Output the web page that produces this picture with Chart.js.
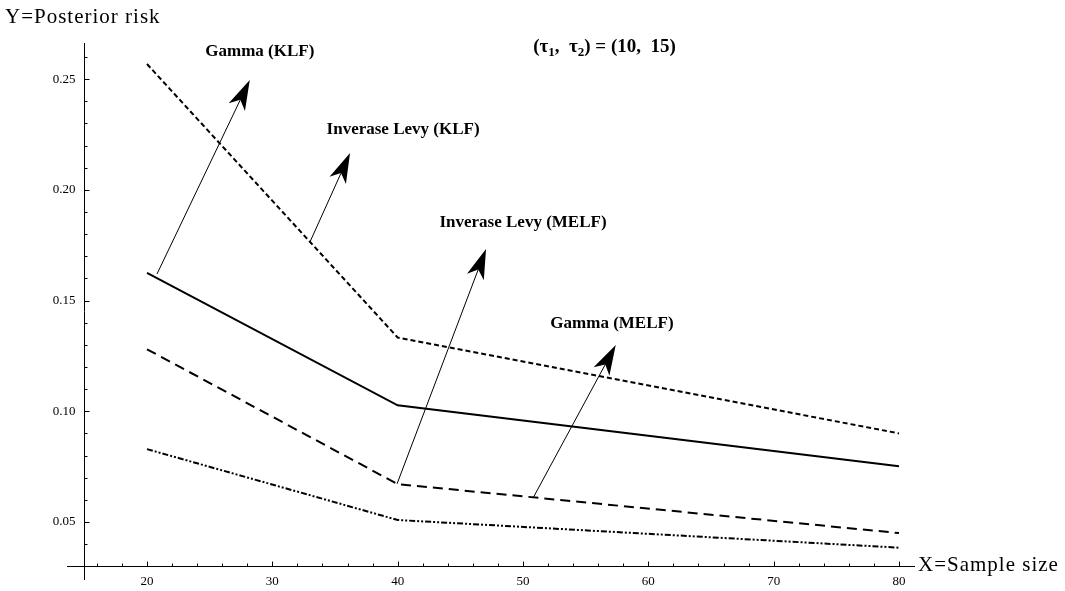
<!DOCTYPE html>
<html><head><meta charset="utf-8">
<script src="https://cdn.jsdelivr.net/npm/chart.js@4/dist/chart.umd.min.js"></script>
<style>html,body{margin:0;padding:0;background:#fff}#wrap{width:1065px;height:591px;position:relative}</style>
</head><body><div id="wrap"><canvas id="c" width="1065" height="591"></canvas></div>
<script>
// ---- data ----
const sampleSizes = [20, 40, 80];
const gammaKLF  = [0.1625, 0.1027, 0.0752];
const levyKLF   = [0.2568, 0.1333, 0.0900];
const levyMELF  = [0.1280, 0.0671, 0.0450];
const gammaMELF = [0.0829, 0.0509, 0.0384];

const xTickLabels = [20, 30, 40, 50, 60, 70, 80];
const yTickLabels = [0.05, 0.10, 0.15, 0.20, 0.25];
const xMinorTicks = [16,18,22,24,26,28,32,34,36,38,42,44,46,48,52,54,56,58,62,64,66,68,72,74,76,78];
const yMinorTicks = [0.03,0.04,0.06,0.07,0.08,0.09,0.11,0.12,0.13,0.14,0.16,0.17,0.18,0.19,0.21,0.22,0.23,0.24,0.26];

const arrowLabels = ["Gamma (KLF)", "Inverase Levy (KLF)", "Inverase Levy (MELF)", "Gamma (MELF)"];
const arrowFromX = [20.8, 33.0, 39.95, 50.8];
const arrowFromY = [0.1620, 0.1764, 0.0672, 0.0608];
const arrowToX   = [28.2, 36.2, 47.05, 57.4];
const arrowToY   = [0.2496, 0.2166, 0.1733, 0.1299];
const labelX     = [29.0, 40.43, 50.0, 57.1];
const labelY     = [0.2622, 0.2270, 0.1854, 0.1398];

const xAxisCrossY = 0.0302;  // where the x axis sits
const yAxisCrossX = 15;      // where the y axis sits

function pts(ys){ return sampleSizes.map((x,i)=>({x:x, y:ys[i]})); }

const serif = '"Liberation Serif", "Times New Roman", serif';

const axesPlugin = {
  id: 'mmaAxes',
  afterDatasetsDraw(chart){
    const ctx = chart.ctx, xs = chart.scales.x, ys = chart.scales.y;
    const ax = Math.round(xs.getPixelForValue(yAxisCrossX)) + 0.5;
    const ay = Math.round(ys.getPixelForValue(xAxisCrossY)) + 0.5;
    ctx.save();
    ctx.strokeStyle = '#000'; ctx.fillStyle = '#000'; ctx.lineWidth = 1;
    // axis lines
    ctx.beginPath();
    ctx.moveTo(ax, ys.top); ctx.lineTo(ax, ys.bottom);
    ctx.moveTo(xs.left, ay); ctx.lineTo(xs.right, ay);
    ctx.stroke();
    // ticks
    ctx.beginPath();
    yTickLabels.forEach(v=>{ const p = Math.round(ys.getPixelForValue(v))+0.5; ctx.moveTo(ax,p); ctx.lineTo(ax+5,p); });
    yMinorTicks.forEach(v=>{ const p = Math.round(ys.getPixelForValue(v))+0.5; ctx.moveTo(ax,p); ctx.lineTo(ax+3,p); });
    xTickLabels.forEach(v=>{ const p = Math.round(xs.getPixelForValue(v))+0.5; ctx.moveTo(p,ay); ctx.lineTo(p,ay-5); });
    xMinorTicks.forEach(v=>{ const p = Math.round(xs.getPixelForValue(v))+0.5; ctx.moveTo(p,ay); ctx.lineTo(p,ay-3); });
    ctx.stroke();
    // tick labels
    ctx.font = '13px ' + serif;
    ctx.textAlign = 'right'; ctx.textBaseline = 'middle';
    yTickLabels.forEach(v=>{ ctx.fillText(v.toFixed(2), ax-9, ys.getPixelForValue(v)); });
    ctx.textAlign = 'center'; ctx.textBaseline = 'top';
    xTickLabels.forEach(v=>{ ctx.fillText(String(v), xs.getPixelForValue(v), ay+9); });
    // axis titles
    ctx.font = '21px ' + serif;
    ctx.letterSpacing = '1px';
    ctx.textAlign = 'left'; ctx.textBaseline = 'middle';
    ctx.fillText('Y=Posterior risk', 5, 17);
    ctx.fillText('X=Sample size', xs.right + 3, ay - 1);
    ctx.letterSpacing = '0px';
    // arrows
    for (let i=0;i<arrowLabels.length;i++){
      const x0 = xs.getPixelForValue(arrowFromX[i]), y0 = ys.getPixelForValue(arrowFromY[i]);
      const x1 = xs.getPixelForValue(arrowToX[i]),   y1 = ys.getPixelForValue(arrowToY[i]);
      const ang = Math.atan2(y1-y0, x1-x0);
      const L = 30, W = 9, N = 8;
      const ca = Math.cos(ang), sa = Math.sin(ang);
      const bx = x1 - L*ca, by = y1 - L*sa;
      ctx.beginPath(); ctx.moveTo(x0,y0); ctx.lineTo(x1 - (L-N)*ca, y1 - (L-N)*sa); ctx.stroke();
      ctx.beginPath();
      ctx.moveTo(x1,y1);
      ctx.lineTo(bx - W*sa, by + W*ca);
      ctx.lineTo(x1 - (L-N)*ca, y1 - (L-N)*sa);
      ctx.lineTo(bx + W*sa, by - W*ca);
      ctx.closePath(); ctx.fill();
      ctx.font = 'bold 17px ' + serif;
      ctx.textAlign = 'center'; ctx.textBaseline = 'middle';
      ctx.fillText(arrowLabels[i], xs.getPixelForValue(labelX[i]), ys.getPixelForValue(labelY[i]));
    }
    // parameter label (τ1, τ2) = (10, 15)
    const parts = [['(τ',0],['1',1],[',  τ',0],['2',1],[') = (10,  15)',0]];
    const big = 'bold 19px ' + serif, small = 'bold 13px ' + serif;
    let total = 0;
    parts.forEach(p=>{ ctx.font = p[1]?small:big; total += ctx.measureText(p[0]).width; });
    let cx = xs.getPixelForValue(56.5) - total/2; const cy = ys.getPixelForValue(0.2644);
    ctx.textAlign = 'left'; ctx.textBaseline = 'middle';
    parts.forEach(p=>{ ctx.font = p[1]?small:big; ctx.fillText(p[0], cx, cy + (p[1]?5:0)); cx += ctx.measureText(p[0]).width; });
    ctx.restore();
  }
};

new Chart(document.getElementById('c'), {
  type: 'line',
  data: {
    datasets: [
      { label: 'Inverase Levy (KLF)', data: pts(levyKLF),  borderColor: '#000', borderWidth: 2, borderDash: [5,3] },
      { label: 'Gamma (KLF)',         data: pts(gammaKLF), borderColor: '#000', borderWidth: 2 },
      { label: 'Inverase Levy (MELF)',data: pts(levyMELF), borderColor: '#000', borderWidth: 2, borderDash: [10,6] },
      { label: 'Gamma (MELF)',        data: pts(gammaMELF),borderColor: '#000', borderWidth: 2, borderDash: [6,2,2,2,2,2] }
    ]
  },
  options: {
    responsive: false, animation: false, devicePixelRatio: 1,
    layout: { padding: { left: 67, right: 150, top: 43, bottom: 11 } },
    elements: { point: { radius: 0 }, line: { tension: 0, fill: false } },
    plugins: { legend: { display: false }, tooltip: { enabled: false } },
    scales: {
      x: { type: 'linear', min: 13.617, max: 81.277, display: false },
      y: { type: 'linear', min: 0.0238, max: 0.2663, display: false }
    }
  },
  plugins: [axesPlugin]
});
</script></body></html>
